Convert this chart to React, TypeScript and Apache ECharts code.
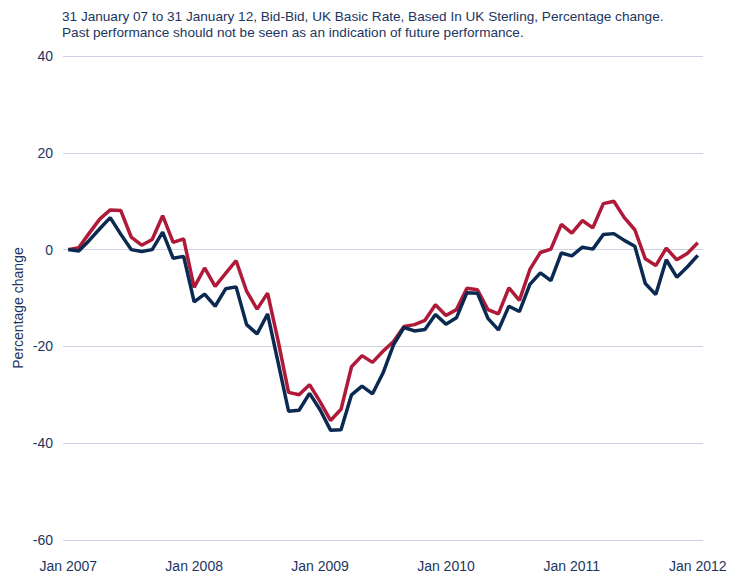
import React, { useEffect, useRef } from "react";
import * as echarts from "echarts";

const titleLines = [
  "31 January 07 to 31 January 12, Bid-Bid, UK Basic Rate, Based In UK Sterling, Percentage change.",
  "Past performance should not be seen as an indication of future performance.",
];
const yAxisName = "Percentage change";
const yearLabels = ["Jan 2007", "Jan 2008", "Jan 2009", "Jan 2010", "Jan 2011", "Jan 2012"];
const labelMonths = [0, 12, 24, 36, 48, 60];

const redSeries = [
  0, 0.4, 3.4, 6.3, 8.2, 8.1, 2.6, 0.9, 2.1, 7.0, 1.5, 2.2, -7.8,
  -3.8, -7.6, -4.9, -2.3, -8.6, -12.3, -9.0, -18.8, -29.5, -30.0, -27.9, -31.4,
  -35.3, -33.0, -24.2, -21.9, -23.3, -21.0, -19.0, -15.9, -15.5, -14.6, -11.4, -13.6,
  -12.4, -8.0, -8.3, -12.4, -13.3, -7.9, -10.5, -4.1, -0.6, 0.1, 5.2, 3.4,
  6.0, 4.5, 9.5, 10.0, 6.6, 4.1, -1.9, -3.3, 0.3, -2.1, -0.8, 1.4,
];
const navySeries = [
  0, -0.3, 1.9, 4.3, 6.6, 3.2, 0, -0.4, 0, 3.6, -1.8, -1.4, -10.8,
  -9.2, -11.7, -8.1, -7.7, -15.5, -17.4, -13.3, -23.3, -33.4, -33.2, -29.7, -33.1,
  -37.3, -37.2, -30.0, -28.2, -29.8, -25.5, -19.7, -16.1, -16.8, -16.5, -13.4, -15.4,
  -14.1, -8.9, -9.0, -14.2, -16.6, -11.7, -12.8, -7.2, -4.8, -6.4, -0.7, -1.3,
  0.5, 0.1, 3.1, 3.3, 1.9, 0.7, -7.0, -9.3, -2.1, -5.7, -3.6, -1.2,
];

const TEXT = "#1c3560";
const FONT = "'Liberation Sans', Arial, sans-serif";

export default function App() {
  const ref = useRef<HTMLDivElement>(null);
  useEffect(() => {
    if (!ref.current) return;
    const chart = echarts.init(ref.current, undefined, { renderer: "svg" });
    const toPts = (arr: number[]) => arr.map((v, i) => [i, v]);
    chart.setOption({
      animation: false,
      textStyle: { fontFamily: FONT },
      title: {
        text: titleLines.join("\n"),
        left: 57,
        top: 3,
        textStyle: { fontSize: 13.6, fontWeight: "normal", color: TEXT, lineHeight: 16, fontFamily: FONT },
      },
      grid: { left: 63, right: 36, top: 56, bottom: 33, containLabel: false, outerBoundsMode: "none" },
      xAxis: {
        type: "value",
        min: -0.5,
        max: 60.5,
        splitLine: { show: false },
        axisLine: { show: false },
        axisTick: { show: false },
        axisLabel: {
          customValues: labelMonths,
          formatter: (v: number) => yearLabels[labelMonths.indexOf(Math.round(v))] ?? "",
          color: TEXT,
          fontSize: 14,
          margin: 19,
          fontFamily: FONT,
        },
      },
      yAxis: {
        type: "value",
        min: -60,
        max: 40,
        interval: 20,
        name: yAxisName,
        nameLocation: "middle",
        nameGap: 38,
        nameMoveOverlap: false,
        nameTextStyle: { color: TEXT, fontSize: 14, fontFamily: FONT, padding: [0, 20, 0, 0] },
        axisLine: { show: false },
        axisTick: { show: false },
        axisLabel: { color: TEXT, fontSize: 14, margin: 10, fontFamily: FONT },
        splitLine: { lineStyle: { color: "#cdd3e3", width: 1 } },
      },
      series: [
        {
          type: "line",
          data: toPts(redSeries),
          symbol: "none",
          lineStyle: { color: "#ae1a38", width: 3.5 },
          z: 2,
        },
        {
          type: "line",
          data: toPts(navySeries),
          symbol: "none",
          lineStyle: { color: "#0b2a52", width: 3.5 },
          z: 3,
        },
      ],
    });
    return () => chart.dispose();
  }, []);
  return <div ref={ref} style={{ width: 739, height: 573, position: "absolute", left: 0, top: 0 }} />;
}
